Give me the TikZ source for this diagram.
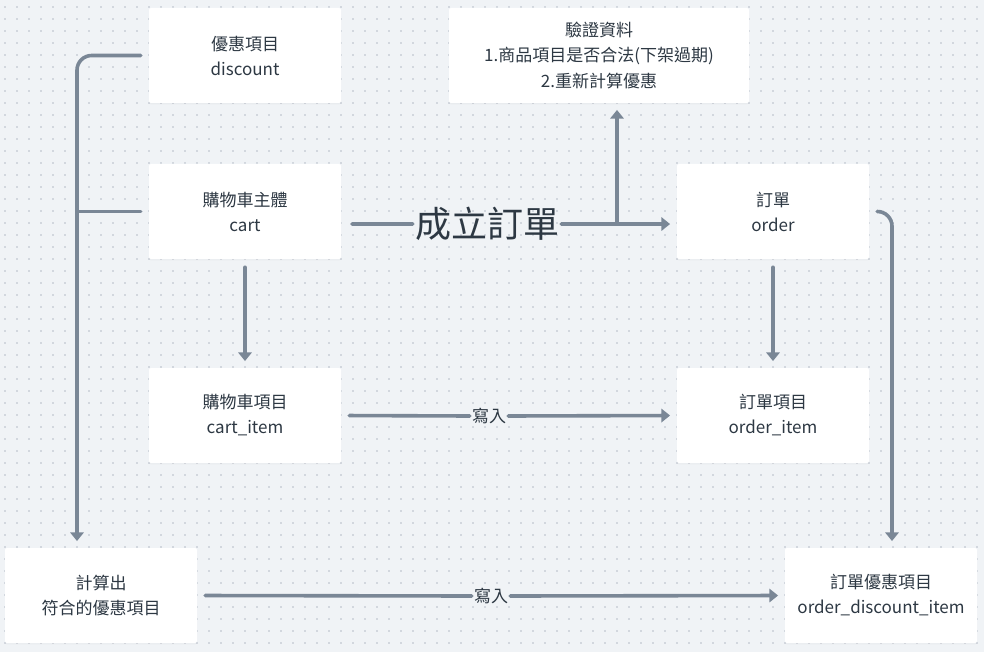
\documentclass[tikz,border=0pt]{standalone}
\usepackage{fontspec}
\setmainfont{Noto Sans CJK TC}
\usetikzlibrary{arrows.meta,shadows}
\definecolor{bgc}{HTML}{F0F3F6}
\definecolor{dotc}{HTML}{D2D7DE}
\definecolor{lnc}{HTML}{7A8796}
\definecolor{txc}{HTML}{2D3843}
\tikzset{
    entity/.style={fill=white, rounded corners=1.5pt, minimum width=144pt, minimum height=71.25pt,
        align=center, text=txc, font=\fontsize{12.75pt}{18.75pt}\selectfont,
        drop shadow={opacity=0.06, shadow xshift=0pt, shadow yshift=-1pt}},
    conn/.style={draw=lnc, line width=2.7pt, line cap=round},
    arr/.style={conn, -{Triangle[width=10pt,length=6.5pt]}, shorten >=5pt},
    gap/.style={shorten <=6pt},
    tag/.style={text=txc, inner sep=1.5pt, font=\fontsize{12.75pt}{14pt}\selectfont},
    dotrow/.style={draw=dotc, line width=1.5pt, dash pattern=on 1.5pt off 7.5pt}
}
\begin{document}
\begin{tikzpicture}[x=0.75pt, y=-0.75pt]
    \useasboundingbox (0, 0) rectangle (984, 652);
    \fill[bgc] (0, 0) rectangle (984, 652);
    \foreach \r in {0,...,53}
        \draw[dotrow] (4.25, 7+12*\r) -- (984, 7+12*\r);

    % boxes
    \node[entity] (disc) at (245, 55.5) {優惠項目\\discount};
    \node[entity, minimum width=225pt] (val) at (599, 55.5) {驗證資料\\1.商品項目是否合法(下架過期)\\2.重新計算優惠};
    \node[entity] (cart) at (245, 211.5) {購物車主體\\cart};
    \node[entity] (ord) at (773, 211.5) {訂單\\order};
    \node[entity] (citem) at (245, 415.5) {購物車項目\\cart\_item};
    \node[entity] (oitem) at (773, 415.5) {訂單項目\\order\_item};
    \node[entity] (calc) at (101, 595.5) {計算出\\符合的優惠項目};
    \node[entity] (odi) at (881, 595.5) {訂單優惠項目\\order\_discount\_item};

    % left lane
    \coordinate (lane) at (77, 0);
    \draw[arr, gap, rounded corners=11pt] (disc.west) -| ([xshift=-18pt]calc.north);
    \draw[conn, gap] (cart.west) -- (cart.west -| lane);

    % create order
    \node[text=txc, inner sep=1.5pt, font=\fontsize{27pt}{29pt}\selectfont] (mk) at (487, 224) {成立訂單};
    \draw[conn, shorten <=8pt] ([yshift=-9.4pt]cart.east) -- (mk.west);
    \draw[arr] (mk.east) -- ([yshift=-9.4pt]ord.west);
    \coordinate (br) at (617, 224);
    \draw[arr] (br) -- (br |- val.south);

    % items
    \draw[arr, gap] (cart.south) -- (citem.north);
    \draw[arr, gap] (ord.south) -- (oitem.north);
    \node[tag, fill=bgc] (w1) at (489, 416) {寫入};
    \draw[conn, gap] (citem.east) -- (w1.west);
    \draw[arr] (w1.east) -- (oitem.west);

    % right lane
    \draw[arr, gap, rounded corners=11pt] (ord.east) -| ([xshift=8.25pt]odi.north);

    % discount items
    \node[tag, fill=bgc] (w2) at (491, 596) {寫入};
    \draw[conn, gap] (calc.east) -- (w2.west);
    \draw[arr] (w2.east) -- (odi.west);
\end{tikzpicture}
\end{document}
